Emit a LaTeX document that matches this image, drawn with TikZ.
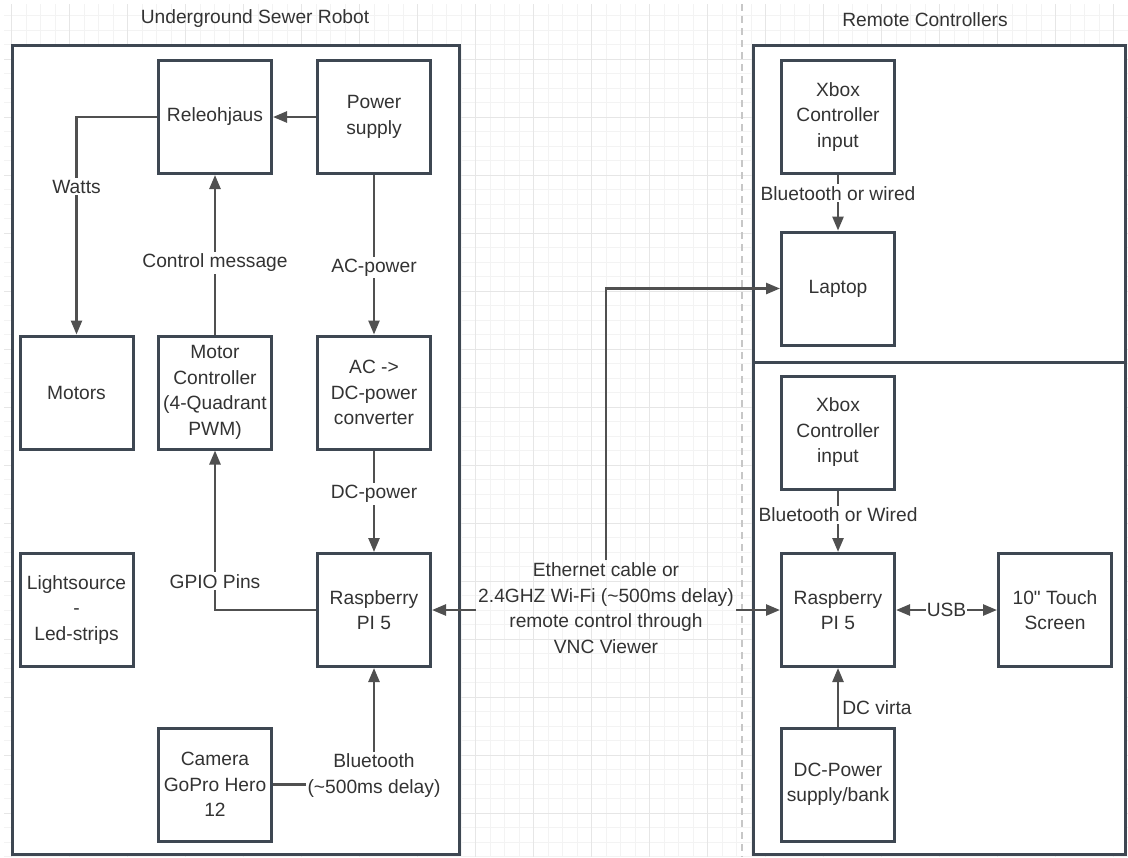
\documentclass[tikz,border=0pt]{standalone}
\usepackage{fontspec}
\setmainfont{Liberation Sans}
\newfontfamily\straightfont{Liberation Sans}[Ligatures=TeXOff]
\usetikzlibrary{arrows.meta, positioning}

\definecolor{framecol}{RGB}{62,71,82}
\definecolor{linecol}{RGB}{80,80,80}
\definecolor{txtcol}{RGB}{51,51,51}
\definecolor{gridminor}{RGB}{243,243,243}
\definecolor{gridmajor}{RGB}{230,230,230}

\newcommand{\diagfont}{\fontsize{9.6}{12.75}\selectfont}

\tikzset{
  blockbox/.style={draw=framecol, line width=1.5pt, fill=white, minimum width=56.5pt,
    minimum height=56.5pt, align=center, inner sep=1pt, font=\diagfont, text=txtcol},
  groupframe/.style={draw=framecol, line width=1.5pt, fill=white},
  conn/.style={draw=linecol, line width=1.25pt, -{Triangle[length=7pt,width=5.5pt]}},
  lbl/.style={fill=white, inner sep=1pt, align=center, font=\diagfont, text=txtcol},
  titletext/.style={font=\diagfont, text=txtcol}
}

\begin{document}
\begin{tikzpicture}[x=0.5pt, y=-0.5pt]
\useasboundingbox (0,0) rectangle (1128,857);

% background grid
\foreach \k in {0,...,76}
  \draw[gridminor, line width=0.5pt] (11.7+14.5*\k,4) -- (11.7+14.5*\k,857);
\foreach \k in {1,...,59}
  \draw[gridminor, line width=0.5pt] (4,1.3+14.5*\k) -- (1128,1.3+14.5*\k);
\foreach \k in {0,4,...,76}
  \draw[gridmajor, line width=0.5pt] (11.7+14.5*\k,4) -- (11.7+14.5*\k,857);
\foreach \k in {4,8,...,56}
  \draw[gridmajor, line width=0.5pt] (4,1.3+14.5*\k) -- (1128,1.3+14.5*\k);

\draw[black!22, line width=1pt, dash pattern=on 3.5pt off 2.5pt] (742,4) -- (742,857);

% group frames
\draw[groupframe] (12.5,45.5) rectangle (459.5,854);
\draw[groupframe] (753.5,45.5) rectangle (1125.5,854);
\draw[framecol, line width=1.5pt] (753.5,362) -- (1125.5,362);

\node[titletext] (robottitle) at (255,19) {Underground Sewer Robot};
\node[titletext] (remotetitle) at (925,20) {Remote Controllers};

% robot side
\node[blockbox] (rele) at (215,117) {Releohjaus};
\node[blockbox] (psu) at (374,117) {Power\\supply};
\node[blockbox] (motors) at (76.5,392.5) {Motors};
\node[blockbox] (motorctrl) at (215,392.5) {Motor\\Controller\\(4-Quadrant\\PWM)};
\node[blockbox] (acdc) at (374,392.5) {AC ->\\DC-power\\converter};
\node[blockbox] (light) at (76.5,610) {Lightsource\\-\\Led-strips};
\node[blockbox] (rpirobot) at (374,610) {Raspberry\\PI 5};
\node[blockbox] (camera) at (215,784.5) {Camera\\GoPro Hero\\12};

% remote side
\node[blockbox] (xboxa) at (838,117) {Xbox\\Controller\\input};
\node[blockbox] (laptop) at (838,288.5) {Laptop};
\node[blockbox] (xboxb) at (838,432.5) {Xbox\\Controller\\input};
\node[blockbox] (rpiremote) at (838,610) {Raspberry\\PI 5};
\node[blockbox] (touch) at (1055,610) {{\straightfont 10"} Touch\\Screen};
\node[blockbox] (dcbank) at (838,784.5) {DC-Power\\supply/bank};

\node[lbl, fill=none] (eth) at (606,608) {Ethernet cable or\\2.4GHZ Wi-Fi (\textasciitilde500ms delay)\\remote control through\\VNC Viewer};

\draw[conn] (psu) -- (rele);
\draw[conn] (rele.west) -| node[lbl, pos=0.66] {Watts} (motors.north);
\draw[conn] (motorctrl) -- node[lbl, pos=0.45] {Control message} (rele);
\draw[conn] (psu) -- node[lbl, pos=0.58] {AC-power} (acdc);
\draw[conn] (acdc) -- node[lbl, pos=0.43] {DC-power} (rpirobot);
\draw[conn] (rpirobot.west) -| node[lbl, pos=0.59] {GPIO Pins} (motorctrl.south);
\draw[conn] (camera.east) -| node[lbl, yshift=4.5pt] {Bluetooth\\(\textasciitilde500ms delay)} (rpirobot.south);

\draw[conn] (eth.west |- rpirobot.east) -- (rpirobot.east);
\draw[conn] (eth.east |- rpiremote.west) -- (rpiremote.west);
\draw[conn] (eth.north) |- (laptop.west);

\draw[conn] (xboxa) -- node[lbl, pos=0.33] {Bluetooth or wired} (laptop);
\draw[conn] (xboxb) -- node[lbl, pos=0.4] {Bluetooth or Wired} (rpiremote);
\draw[conn, {Triangle[length=7pt,width=5.5pt]}-{Triangle[length=7pt,width=5.5pt]}] (rpiremote) -- node[lbl, inner sep=0.5pt] {USB} (touch);
\draw[conn] (dcbank) -- node[right, pos=0.32, font=\diagfont, text=txtcol, inner sep=1.5pt] {DC virta} (rpiremote);
\end{tikzpicture}
\end{document}
